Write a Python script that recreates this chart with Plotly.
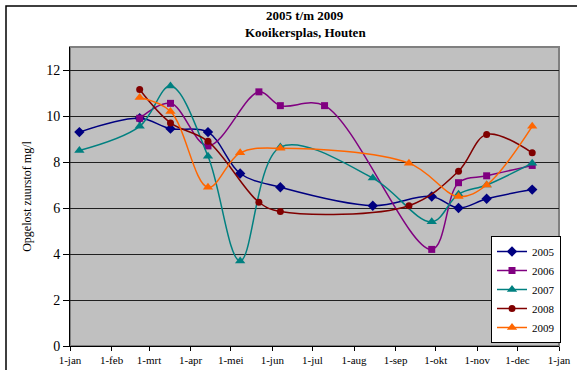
import plotly.graph_objects as go

# ---- data (dates mapped onto one common year) ----
dates_2005 = ["2005-01-08", "2005-02-22", "2005-03-17", "2005-04-14", "2005-05-08", "2005-06-07",
              "2005-08-15", "2005-09-28", "2005-10-18", "2005-11-08", "2005-12-12"]
vals_2005 = [9.3, 9.9, 9.45, 9.3, 7.5, 6.9, 6.1, 6.5, 6.0, 6.4, 6.8]

dates_2006 = ["2005-02-22", "2005-03-17", "2005-04-14", "2005-05-22", "2005-06-07", "2005-07-10",
              "2005-09-28", "2005-10-18", "2005-11-08", "2005-12-12"]
vals_2006 = [9.9, 10.55, 8.7, 11.05, 10.45, 10.45, 4.2, 7.1, 7.4, 7.85]

dates_2007 = ["2005-01-08", "2005-02-22", "2005-03-17", "2005-04-14", "2005-05-08", "2005-06-07",
              "2005-08-15", "2005-09-28", "2005-10-18", "2005-11-08", "2005-12-12"]
vals_2007 = [8.5, 9.55, 11.3, 8.25, 3.7, 8.65, 7.3, 5.4, 6.6, 7.0, 7.95]

dates_2008 = ["2005-02-22", "2005-03-17", "2005-04-14", "2005-05-22", "2005-06-07", "2005-09-11",
              "2005-10-18", "2005-11-08", "2005-12-12"]
vals_2008 = [11.15, 9.7, 8.9, 6.25, 5.85, 6.1, 7.6, 9.2, 8.4]

dates_2009 = ["2005-02-22", "2005-03-17", "2005-04-14", "2005-05-08", "2005-06-07", "2005-09-11",
              "2005-10-18", "2005-11-08", "2005-12-12"]
vals_2009 = [10.8, 10.2, 6.9, 8.4, 8.6, 7.95, 6.5, 7.0, 9.55]

month_ticks = ["2005-01-01", "2005-02-01", "2005-03-01", "2005-04-01", "2005-05-01", "2005-06-01",
               "2005-07-01", "2005-08-01", "2005-09-01", "2005-10-01", "2005-11-01", "2005-12-01",
               "2006-01-01"]
month_labels = ["1-jan", "1-feb", "1-mrt", "1-apr", "1-mei", "1-jun", "1-jul", "1-aug", "1-sep",
                "1-okt", "1-nov", "1-dec", "1-jan"]
y_ticks = [0, 2, 4, 6, 8, 10, 12]

title_lines = ["2005 t/m 2009", "Kooikersplas, Houten"]

series = [
    ("2005", dates_2005, vals_2005, "#000080", "diamond", 8),
    ("2006", dates_2006, vals_2006, "#800080", "square", 7),
    ("2007", dates_2007, vals_2007, "#008080", "triangle-up", 9),
    ("2008", dates_2008, vals_2008, "#800000", "circle", 7),
    ("2009", dates_2009, vals_2009, "#FF6600", "triangle-up", 9),
]

FONT = "Times New Roman, Liberation Serif, DejaVu Serif, serif"

fig = go.Figure()
for name, d, v, col, sym, sz in series:
    fig.add_trace(go.Scatter(
        x=d, y=v, name=name, mode="lines+markers",
        line=dict(color=col, width=1.5, shape="spline", smoothing=1.0),
        marker=dict(symbol=sym, size=sz, color=col),
    ))

W, H = 577, 370
L, R, T, B = 70, 18, 47, 24
PW, PH = W - L - R, H - T - B

fig.update_layout(
    width=W, height=H,
    margin=dict(l=L, r=R, t=T, b=B, autoexpand=False),
    paper_bgcolor="white",
    plot_bgcolor="#C0C0C0",
    font=dict(family=FONT, color="black"),
    legend=dict(
        x=(491 - L) / PW, xanchor="left", y=(346 - 236) / PH, yanchor="top",
        bgcolor="white", bordercolor="black", borderwidth=1,
        font=dict(family=FONT, size=11, color="black"),
        itemwidth=30, tracegroupgap=0,
    ),
    showlegend=True,
)

# title as two annotations
for txt, py in zip(title_lines, [15, 32]):
    fig.add_annotation(
        text="<b>" + txt + "</b>", xref="paper", yref="paper",
        x=(305 - L) / PW, y=(346 - py) / PH, xanchor="center", yanchor="middle",
        showarrow=False, font=dict(family=FONT, size=13, color="black"),
    )

fig.update_xaxes(
    type="date",
    range=["2005-01-01", "2006-01-01"],
    tickmode="array", tickvals=month_ticks, ticktext=month_labels,
    ticks="outside", ticklen=4, tickcolor="black",
    showgrid=False, showline=True, linecolor="black", linewidth=1,
    tickfont=dict(family=FONT, size=11, color="black"),
    zeroline=False,
)
fig.update_yaxes(
    range=[0, 13],
    tickmode="array", tickvals=y_ticks,
    ticks="outside", ticklen=6, tickcolor="black",
    showgrid=True, gridcolor="#202020", gridwidth=1,
    showline=True, linecolor="black", linewidth=1,
    zeroline=False,
    tickfont=dict(family=FONT, size=14, color="black"),
    title=dict(text="Opgelost zuurstof mg/l", standoff=12,
               font=dict(family=FONT, size=12, color="black")),
)

# plot-area frame and outer chart border
fig.add_shape(type="rect", xref="paper", yref="paper", x0=0, x1=1, y0=0, y1=1,
              line=dict(color="#808080", width=2), layer="below")
fig.add_shape(type="rect", xref="paper", yref="paper",
              x0=(6 - L) / PW, x1=(600 - L) / PW,
              y0=(346 - 400) / PH, y1=(346 - 6) / PH,
              line=dict(color="black", width=1.5), layer="below")

fig.write_html("out.html", config={"displayModeBar": False},
               post_script="document.body.style.margin='0';")
